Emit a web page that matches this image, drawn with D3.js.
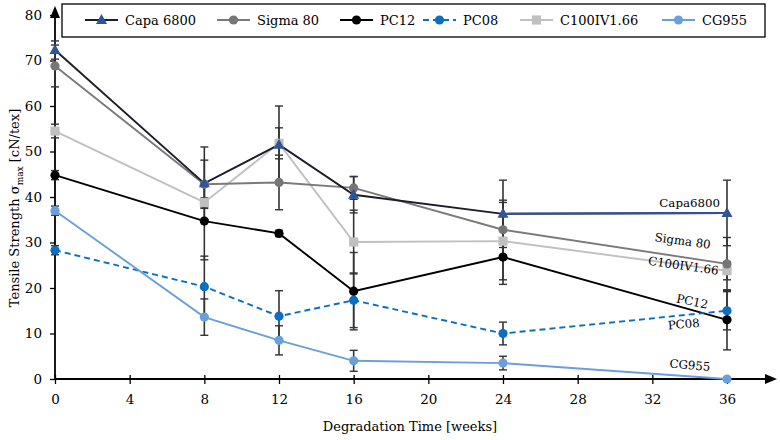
<!DOCTYPE html>
<html><head><meta charset="utf-8">
<script src="https://cdn.jsdelivr.net/npm/d3@7/dist/d3.min.js"></script>
<style>
body{margin:0;background:#fff;}
svg text{font-family:"DejaVu Serif","Liberation Serif",serif !important;}
</style></head>
<body><svg id="c" width="780" height="440"></svg>
<script>
// ---- data ----
const weeks = [0, 8, 12, 16, 24, 36];
const xTicks = [0, 4, 8, 12, 16, 20, 24, 28, 32, 36];
const yTicks = [0, 10, 20, 30, 40, 50, 60, 70, 80];
const seriesNames = ["Capa 6800", "Sigma 80", "PC12", "PC08", "C100IV1.66", "CG955"];
const endLabels = ["Capa6800", "Sigma 80", "PC12", "PC08", "C100IV1.66", "CG955"];
const capa  = [72.3, 43.0, 51.5, 40.5, 36.3, 36.5];
const capaErr  = [2.0, 8.0, 8.5, 4.0, 7.4, 7.2];
const sigma = [68.8, 42.8, 43.2, 42.0, 32.8, 25.3];
const sigmaErr = [4.6, 5.3, 6.0, 2.5, 6.5, 5.8];
const pc12  = [44.8, 34.7, 32.0, 19.3, 26.8, 13.0];
const pc12Err  = [1.0, 8.5, 0.7, 8.5, 6.0, 6.6];
const pc08  = [28.3, 20.3, 13.8, 17.3, 10.0, 15.0];
const pc08Err  = [1.0, 6.7, 5.6, 6.0, 2.5, 4.2];
const c100  = [54.5, 38.8, 51.8, 30.1, 30.3, 23.8];
const c100Err  = [1.5, 1.0, 3.4, 7.0, 8.5, 2.0];
const cg955 = [37.0, 13.6, 8.5, 4.0, 3.5, 0.0];
const cg955Err = [1.0, 4.0, 3.2, 2.3, 1.5, 0.0];

const FONT = "'DejaVu Serif','Liberation Serif',serif";

// ---- styles ----
const styles = [
  {line:"#1c1c2c", mark:"#2f5597", shape:"tri", dash:null, lastSeg:"#2f5597"},
  {line:"#7a7a7a", mark:"#767676", shape:"circle", dash:null},
  {line:"#000000", mark:"#000000", shape:"circle", dash:null},
  {line:"#0a6fc2", mark:"#0a6fc2", shape:"circle", dash:"6,4"},
  {line:"#c0c0c0", mark:"#c0c0c0", shape:"square", dash:null},
  {line:"#6a9fdb", mark:"#6a9fdb", shape:"circle", dash:null}
];
const vals = [capa, sigma, pc12, pc08, c100, cg955];
const errs = [capaErr, sigmaErr, pc12Err, pc08Err, c100Err, cg955Err];

const svg = d3.select("#c");
const x = d3.scaleLinear().domain([0, 36]).range([55, 727]);
const y = d3.scaleLinear().domain([0, 80]).range([379, 15]);

// axes
const yAx = svg.append("g").attr("transform", "translate(55,0)")
  .call(d3.axisLeft(y).tickValues(yTicks).tickSize(5).tickPadding(8));
yAx.attr("font-family", FONT).attr("font-size", 13.5);
yAx.select(".domain").remove();
yAx.selectAll("line").attr("stroke","#000").attr("stroke-width",1.3);

const xAx = svg.append("g").attr("transform", "translate(0,379)")
  .call(d3.axisBottom(x).tickValues(xTicks).tickSize(5).tickPadding(10));
xAx.attr("font-family", FONT).attr("font-size", 13.5);
xAx.select(".domain").remove();
xAx.selectAll("line").attr("y1",-4).attr("stroke","#000").attr("stroke-width",1.3);

svg.append("line").attr("x1",55).attr("x2",55).attr("y1",379).attr("y2",12).attr("stroke","#000").attr("stroke-width",1.8);
svg.append("path").attr("d","M55,6 L50,18 L60,18 Z").attr("fill","#000");
svg.append("line").attr("x1",55).attr("x2",770).attr("y1",379).attr("y2",379).attr("stroke","#000").attr("stroke-width",1.8);
svg.append("path").attr("d","M777,379 L765,374 L765,384 Z").attr("fill","#000");

// axis titles
const yt = svg.append("text").attr("transform","translate(19,208) rotate(-90)")
  .attr("text-anchor","middle").attr("font-size",13);
yt.append("tspan").text("Tensile Strength σ");
yt.append("tspan").attr("dy",4).attr("font-size",9).text("max");
yt.append("tspan").attr("dy",-4).text(" [cN/tex]");
svg.append("text").attr("x",410).attr("y",431).attr("text-anchor","middle")
  .attr("font-size",13).text("Degradation Time [weeks]");

// error bars
const eg = svg.append("g");
vals.forEach((v,si)=>{
  v.forEach((d,i)=>{
    const e = errs[si][i];
    if(e<=0) return;
    const cx = x(weeks[i]);
    eg.append("line").attr("x1",cx).attr("x2",cx).attr("y1",y(d-e)).attr("y2",y(d+e))
      .attr("stroke","#333").attr("stroke-width",1.6);
    [d-e,d+e].forEach(t=>eg.append("line").attr("x1",cx-4).attr("x2",cx+4)
      .attr("y1",y(t)).attr("y2",y(t)).attr("stroke","#333").attr("stroke-width",1.4));
  });
});

// lines
const lineGen = d3.line().x((d,i)=>x(weeks[i])).y(d=>y(d));
const drawOrder = [4,1,0,2,3,5];
drawOrder.forEach(si=>{
  const st = styles[si];
  svg.append("path").datum(vals[si]).attr("d",lineGen).attr("fill","none")
    .attr("stroke",st.line).attr("stroke-width",1.9)
    .attr("stroke-dasharray",st.dash);
  if(st.lastSeg){
    const n = vals[si].length;
    svg.append("line").attr("x1",x(weeks[n-2])).attr("x2",x(weeks[n-1]))
      .attr("y1",y(vals[si][n-2])).attr("y2",y(vals[si][n-1]))
      .attr("stroke",st.lastSeg).attr("stroke-width",1.9);
  }
});

function marker(g, shape, cx, cy, color){
  if(shape==="circle") g.append("circle").attr("cx",cx).attr("cy",cy).attr("r",4.6).attr("fill",color);
  else if(shape==="square") g.append("rect").attr("x",cx-4.6).attr("y",cy-4.6).attr("width",9.2).attr("height",9.2).attr("fill",color);
  else g.append("path").attr("d",`M${cx},${cy-6} L${cx+5.5},${cy+4} L${cx-5.5},${cy+4} Z`).attr("fill",color);
}
drawOrder.forEach(si=>{
  const st = styles[si];
  vals[si].forEach((d,i)=>marker(svg, st.shape, x(weeks[i]), y(d), st.mark));
});

// end labels
const lblPos = [
  {dx:-7, dy:-6, rot:0, v:capa[5]},
  {dx:-17, dy:-15, rot:8, v:sigma[5]},
  {dx:-20, dy:-11, rot:12, v:pc12[5]},
  {dx:-27, dy:16, rot:-5, v:pc08[5]},
  {dx:-9, dy:4, rot:8, v:c100[5]},
  {dx:-17, dy:-8, rot:5, v:cg955[5]}
];
endLabels.forEach((t,i)=>{
  const p = lblPos[i];
  const px = x(36)+p.dx, py = y(p.v)+p.dy;
  svg.append("text").attr("transform",`translate(${px},${py}) rotate(${p.rot})`)
    .attr("text-anchor","end").attr("font-size",11.8).text(t);
});

// legend
svg.append("rect").attr("x",62).attr("y",4).attr("width",703).attr("height",33)
  .attr("fill","#fff").attr("stroke","#000").attr("stroke-width",1.3);
const legX = [85, 217, 340, 423, 520, 662];
seriesNames.forEach((n,i)=>{
  const st = styles[i];
  const lx = legX[i], ly = 20;
  svg.append("line").attr("x1",lx).attr("x2",lx+33).attr("y1",ly).attr("y2",ly)
    .attr("stroke",st.line).attr("stroke-width",1.9).attr("stroke-dasharray",st.dash);
  marker(svg, st.shape, lx+16.5, ly, st.mark);
  svg.append("text").attr("x",lx+40).attr("y",ly+5).attr("font-size",13).text(n);
});
svg.selectAll("text").attr("font-family", FONT);
</script></body></html>
